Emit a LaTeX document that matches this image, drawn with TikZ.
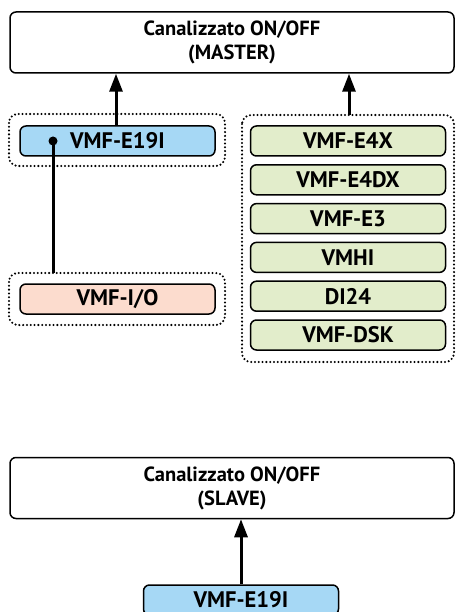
\documentclass[tikz,border=0pt]{standalone}
\usepackage{fontspec}
\setmainfont{PT Sans}
\usetikzlibrary{arrows.meta,positioning}

\definecolor{boxblue}{HTML}{A6D8F5}
\definecolor{boxgreen}{HTML}{E2EDCB}
\definecolor{boxpink}{HTML}{FCDCCE}

\begin{document}
\begin{tikzpicture}[x=1pt,y=-1pt,>={Triangle[length=18pt,width=13pt]},
                    node distance=38.8pt]
  \tikzstyle{unit}=[draw=black,line width=1.5pt,rounded corners=6pt,
                    minimum width=444pt,minimum height=61pt,align=center,
                    font=\bfseries\fontsize{20.5}{24}\selectfont]
  \tikzstyle{dev}=[draw=black,line width=1.5pt,rounded corners=6pt,
                   minimum width=195pt,minimum height=30pt,inner sep=0pt,
                   font=\bfseries\fontsize{22.5}{24}\selectfont]
  \tikzstyle{group}=[line width=2.3pt,dash pattern=on 0pt off 3.8pt,
                     line cap=round,rounded corners=9pt]
  \tikzstyle{link}=[line width=3pt]

  \useasboundingbox (0,0) rectangle (455,612);
  \clip (0,0) rectangle (455,612);

	\node[unit]			(master)	at (232,42.5)	{Canalizzato ON/OFF\\(MASTER)};
	\node[dev, fill=boxblue]	(e19i)		at (117.5,141)	{VMF-E19I};
	\node[dev, fill=boxpink]	(io)		at (117.5,299)	{VMF-I/O};
	\node[dev, fill=boxgreen]	(e4x)		at (348,141)	{VMF-E4X};
	\node[dev, fill=boxgreen]	(e4dx)		[below of=e4x]	{VMF-E4DX};
	\node[dev, fill=boxgreen]	(e3)		[below of=e4dx]	{VMF-E3};
	\node[dev, fill=boxgreen]	(vmhi)		[below of=e3]	{VMHI};
	\node[dev, fill=boxgreen]	(di24)		[below of=vmhi]	{DI24};
	\node[dev, fill=boxgreen]	(dsk)		[below of=di24]	{VMF-DSK};

	\node[unit]			(slave)		at (232,488)	{Canalizzato ON/OFF\\(SLAVE)};
	\node[dev, fill=boxblue]	(e19is)		at (241,600)	{VMF-E19I};

  % dotted groups
	\draw[group] (9,114) rectangle (225,166);
	\draw[group] (9,273) rectangle (225,325);
	\draw[group] (242,115) rectangle (454,362);
	\coordinate (gl) at (116,114);
	\coordinate (gr) at (349,115);
	\coordinate (gio) at (53,273);

	\fill (53,141) circle (4.5pt) coordinate (pin);

	\path[link,->]
    (e19i.north -| gl)	edge []	(master.south -| gl)
    (gr)		edge []	(master.south -| gr)
    (e19is.north)	edge []	(slave.south -| e19is);
	\draw[link] (pin) -- (gio);

\end{tikzpicture}
\end{document}
